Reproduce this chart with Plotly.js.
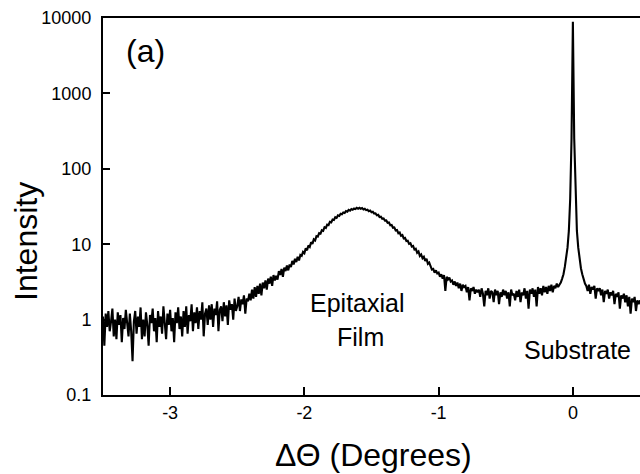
<!DOCTYPE html>
<html><head><meta charset="utf-8">
<script src="https://cdn.plot.ly/plotly-3.0.1.min.js"></script>
<style>html,body{margin:0;padding:0;background:#fff}</style>
</head><body><div id="chart" style="width:640px;height:474px"></div>
<script>
// Rocking curve scan: first angle and angular step (degrees)
const scanStart = -3.5;
const scanStep = 0.01;
// Intensity, one value per 0.01 deg, from -3.50 to 0.50
const intensity = [
 1.1,0.45,1.2,0.8,1.3,0.7,0.95,1.4,0.6,1.0,
 0.55,1.25,0.85,1.15,0.5,1.05,0.75,1.35,0.9,0.6,
 1.2,0.7,0.28,0.95,1.3,0.65,1.1,0.8,1.45,0.55,
 1.0,0.6,1.25,0.85,0.45,1.15,0.9,1.4,0.7,1.05,
 0.5,1.3,0.8,1.1,0.65,1.5,0.9,0.55,1.2,0.85,
 1.35,0.7,1.05,0.5,1.25,0.9,1.45,0.75,1.1,0.6,
 1.3,0.8,1.5,0.65,1.15,0.95,1.6,0.7,1.25,0.9,
 1.45,0.75,1.3,1.0,1.7,0.6,1.2,1.4,0.85,1.55,
 1.0,1.6,0.8,1.4,1.15,1.75,0.7,1.35,1.5,0.95,
 1.7,1.1,1.55,0.85,1.8,1.35,1.6,1.0,1.9,1.3,
 1.5,2.0,1.3,1.85,1.6,2.1,1.2,1.9,1.75,2.2,
 1.8,2.5,1.9,2.7,2.0,2.8,2.2,3.0,2.1,3.1,
 2.6,3.3,2.5,3.5,3.0,3.7,2.8,3.9,3.3,3.8,
 3.4,4.4,3.9,4.7,3.7,4.9,4.4,5.2,4.5,5.4,
 5.0,6.0,5.4,6.4,5.8,6.8,6.1,7.2,7.0,7.9,
 7.6,8.8,8.3,9.6,9.2,10.6,10.1,11.6,11.2,12.8,
 12.6,14.0,13.8,15.3,15.0,16.8,16.4,18.2,17.9,19.8,
 19.5,21.3,21.0,22.8,22.3,24.1,23.7,25.3,25.0,26.4,
 26.0,27.5,27.0,28.5,27.9,29.3,28.6,29.8,29.2,30.3,
 29.6,30.4,29.5,30.1,28.9,29.5,28.3,28.7,27.4,27.9,
 26.6,27.0,25.5,25.7,24.2,24.5,22.9,23.1,21.7,21.9,
 20.6,20.7,19.2,19.4,17.8,18.0,16.5,16.7,15.2,15.4,
 14.0,14.3,12.9,13.2,11.9,12.1,11.0,11.1,10.1,10.3,
 9.3,9.5,8.5,8.7,7.7,8.0,7.0,7.3,6.5,6.8,
 6.0,6.4,5.5,5.7,5.1,4.6,4.7,4.2,4.5,4.1,
 4.2,3.7,4.0,3.5,3.9,2.4,3.7,3.4,3.6,3.2,
 3.3,2.9,3.2,2.8,3.1,2.6,3.0,2.4,2.9,2.7,
 2.8,2.3,2.7,1.8,2.6,2.4,2.7,2.2,2.5,2.3,
 2.5,2.0,2.6,2.2,1.5,2.4,2.1,2.6,1.9,2.4,
 2.3,1.7,2.5,2.1,2.4,1.6,2.3,2.0,2.5,2.1,
 2.4,1.9,2.3,1.5,2.5,2.1,2.2,1.8,2.4,2.0,
 2.5,1.7,2.3,2.1,2.6,1.9,2.4,1.4,2.5,2.2,
 2.6,2.0,2.5,1.5,2.7,2.2,2.6,2.1,2.8,2.3,
 2.7,2.2,2.8,2.4,2.9,2.3,2.8,2.6,3.0,2.7,
 2.9,3.1,3.5,4.0,5.0,6.5,9.0,15,40,250,
 8900,250,42,15,9.0,6.3,4.8,4.0,3.4,3.0,
 2.8,2.4,2.9,2.2,2.7,2.5,2.8,1.9,2.6,2.4,
 2.6,2.1,2.5,1.7,2.4,2.2,2.5,1.9,2.3,2.1,
 2.4,1.6,2.2,2.0,2.3,1.4,2.1,1.9,2.2,1.7,
 2.1,1.5,2.0,1.2,1.9,1.7,2.0,1.3,1.8,1.6,
 1.8
];
const yTickVals = [0.1, 1, 10, 100, 1000, 10000];
const yTickText = ['0.1', '1', '10', '100', '1000', '10000'];
const xTickVals = [-3, -2, -1, 0];
const xTickText = ['-3', '-2', '-1', '0'];
const labels = ['(a)', 'Epitaxial', 'Film', 'Substrate'];
const xTitle = '\u0394\u0398 (Degrees)';
const yTitle = 'Intensity';

const FONT = 'Liberation Sans, Arial, Helvetica, sans-serif';

const trace = {
  type: 'scatter', mode: 'lines',
  x0: scanStart, dx: scanStep, y: intensity,
  line: {color: '#000', width: 2.1},
  hoverinfo: 'skip'
};

const layout = {
  width: 640, height: 474,
  margin: {l: 103, r: 0, t: 18, b: 79},
  paper_bgcolor: '#fff', plot_bgcolor: '#fff',
  showlegend: false,
  font: {family: FONT, color: '#000', size: 18},
  xaxis: {
    range: [-3.5, 0.5], tickvals: xTickVals, ticktext: xTickText,
    ticks: 'inside', ticklen: 8, tickwidth: 2, tickcolor: '#000',
    showline: true, linewidth: 2, linecolor: '#000', mirror: true,
    showgrid: false, zeroline: false,
    tickfont: {family: FONT, size: 18, color: '#000'}
  },
  yaxis: {
    type: 'log', range: [-1, 4], tickvals: yTickVals, ticktext: yTickText,
    ticks: 'inside', ticklen: 7, tickwidth: 2, tickcolor: '#000',
    showline: true, linewidth: 2, linecolor: '#000', mirror: false,
    showgrid: false, zeroline: false, ticklabelstandoff: 6,
    tickfont: {family: FONT, size: 18, color: '#000'}
  },
  annotations: [
    {text: labels[0], xref: 'paper', yref: 'paper', x: 0.079, y: 0.9125, xanchor: 'center', yanchor: 'middle', showarrow: false, font: {family: FONT, size: 32, color: '#000'}},
    {text: labels[1], xref: 'paper', yref: 'paper', x: 0.473, y: 0.245, xanchor: 'center', yanchor: 'middle', showarrow: false, font: {family: FONT, size: 25, color: '#000'}},
    {text: labels[2], xref: 'paper', yref: 'paper', x: 0.480, y: 0.154, xanchor: 'center', yanchor: 'middle', showarrow: false, font: {family: FONT, size: 25, color: '#000'}},
    {text: labels[3], xref: 'paper', yref: 'paper', x: 0.8827, y: 0.12, xanchor: 'center', yanchor: 'middle', showarrow: false, font: {family: FONT, size: 25, color: '#000'}},
    {text: yTitle, xref: 'paper', yref: 'paper', x: -0.1434, y: 0.4085, xanchor: 'center', yanchor: 'middle', textangle: -90, showarrow: false, font: {family: FONT, size: 32, color: '#000'}},
    {text: xTitle, xref: 'paper', yref: 'paper', x: 0.503, y: -0.16, xanchor: 'center', yanchor: 'middle', showarrow: false, font: {family: FONT, size: 32, color: '#000'}}
  ]
};

Plotly.newPlot('chart', [trace], layout, {displayModeBar: false, staticPlot: true});
</script></body></html>
